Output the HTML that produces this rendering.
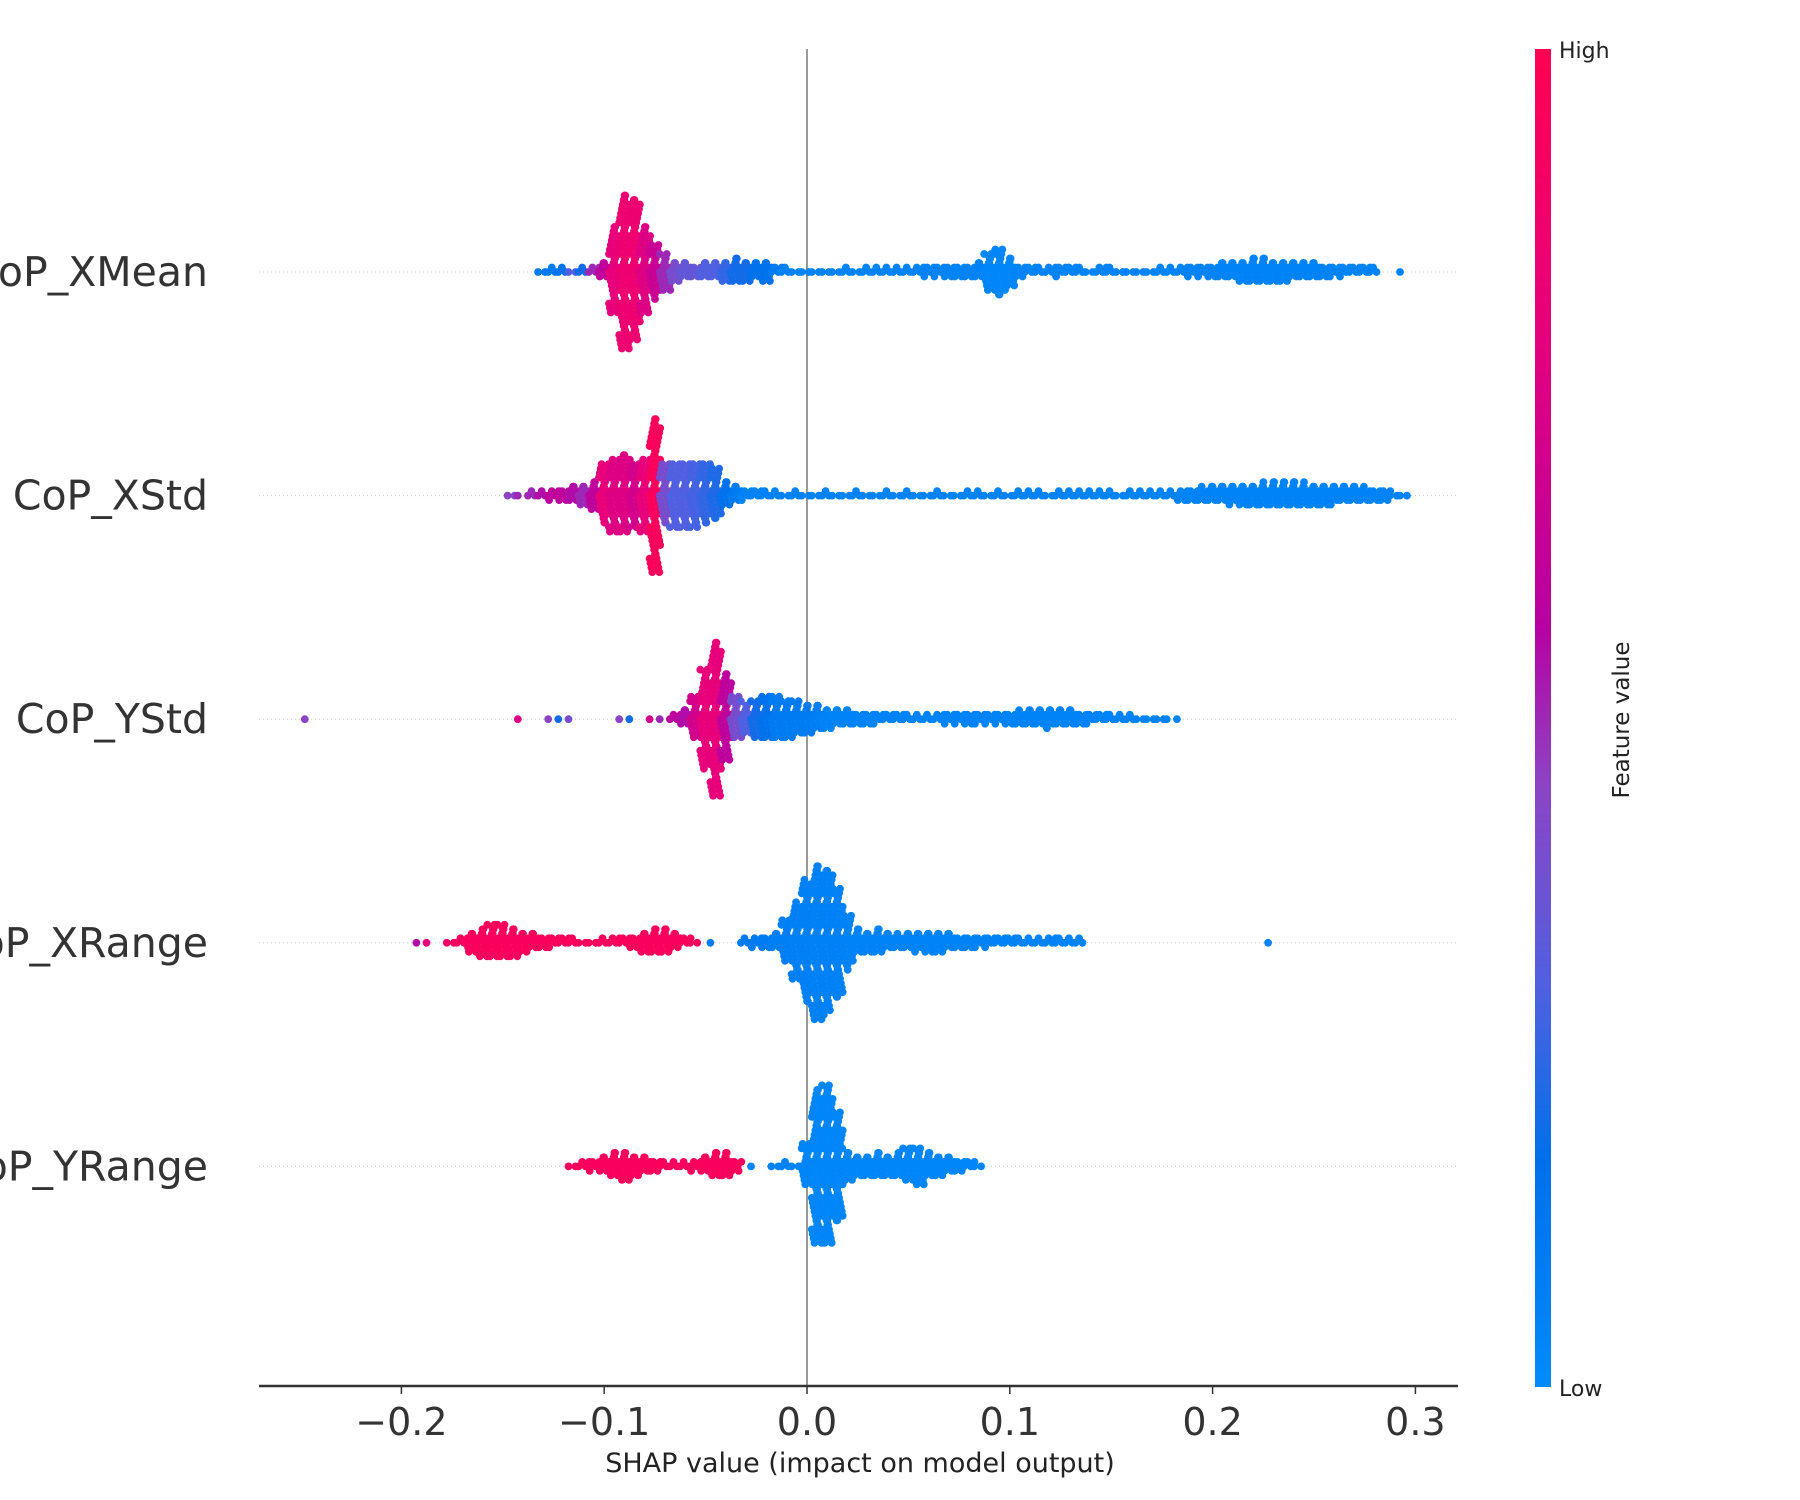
<!DOCTYPE html>
<html><head><meta charset="utf-8"><title>SHAP summary</title>
<style>html,body{margin:0;padding:0;background:#fff}svg{display:block}</style></head>
<body>
<svg id="chart" width="1800" height="1500" viewBox="0 0 1800 1500" xmlns="http://www.w3.org/2000/svg" font-family="DejaVu Sans, Liberation Sans, sans-serif">
<defs>
<linearGradient id="cbar" x1="0" y1="1" x2="0" y2="0">
<stop offset="0" stop-color="#008bfb"/><stop offset="0.17" stop-color="#0070ea"/><stop offset="0.3" stop-color="#5060e0"/><stop offset="0.45" stop-color="#8c44c4"/><stop offset="0.57" stop-color="#b800a2"/><stop offset="0.8" stop-color="#e8007a"/><stop offset="1" stop-color="#ff0052"/>
</linearGradient>
</defs>
<g id="grid"></g>
<line x1="807" y1="49" x2="807" y2="1386" stroke="#999" stroke-width="2"/>
<g id="dots"></g>
<g id="ylabels"></g>
<line x1="259" y1="1386" x2="1458" y2="1386" stroke="#333" stroke-width="2.5"/>
<g id="xticks"></g>
<text x="860" y="1472" font-size="27" fill="#222" text-anchor="middle">SHAP value (impact on model output)</text>
<rect x="1535" y="49" width="16" height="1338" fill="url(#cbar)"/>
<text x="1559" y="58" font-size="22" fill="#222">High</text>
<text x="1559" y="1396" font-size="22" fill="#222">Low</text>
<text x="0" y="0" font-size="23" fill="#222" text-anchor="middle" transform="translate(1629,720) rotate(-90)">Feature value</text>
</svg>
<script>
const features = ["CoP_XMean","CoP_XStd","CoP_YStd","CoP_XRange","CoP_YRange"];
const xTicks = [-0.2,-0.1,0.0,0.1,0.2,0.3];
const xTickLabels = ["\u22120.2","\u22120.1","0.0","0.1","0.2","0.3"];
const binStep = 0.005;
const xmeanStart = -0.130;
const xmeanCounts = [2,3,3,2,3,4,8,40,70,64,40,25,18,10,8,6,8,8,10,12,10,8,10,4,3,2,2,2,2,2,3,2,3,3,3,3,3,4,5,5,6,6,6,8,18,22,14,6,4,3,4,5,4,3,2,4,3,2,2,2,2,3,3,4,5,5,6,8,8,10,12,12,10,10,8,8,8,6,5,5,4,4,3,0,0,1];
const xmeanColors = [0.1,0.1,0.15,0.3,0.2,0.5,0.6,0.8,0.85,0.85,0.75,0.65,0.5,0.4,0.35,0.35,0.3,0.3,0.25,0.2,0.2,0.15,0.15,0.1,0.05,0.05,0.05,0.05,0.05,0.05,0.05,0.05,0.05,0.05,0.05,0.05,0.05,0.05,0.05,0.05,0.05,0.05,0.05,0.05,0.03,0.03,0.03,0.05,0.05,0.05,0.05,0.05,0.05,0.05,0.05,0.05,0.05,0.05,0.05,0.05,0.05,0.05,0.05,0.05,0.05,0.05,0.05,0.05,0.05,0.05,0.05,0.05,0.05,0.05,0.05,0.05,0.05,0.05,0.05,0.05,0.05,0.05,0.05,0.05,0.05,0.05];
const xstdStart = -0.145;
const xstdCounts = [2,1,3,3,5,6,8,10,14,28,34,36,30,34,70,28,30,30,30,28,24,12,8,5,4,3,3,2,3,2,2,3,2,2,3,2,2,3,2,3,2,2,3,2,2,3,3,2,3,2,3,3,3,2,3,3,3,3,3,3,2,3,3,3,3,3,6,6,7,8,8,9,10,10,11,12,12,12,11,10,10,9,8,8,7,6,6,2,2];
const xstdColors = [0.45,0.5,0.5,0.55,0.6,0.6,0.55,0.5,0.6,0.8,0.75,0.75,0.7,0.8,0.95,0.4,0.3,0.3,0.28,0.25,0.22,0.15,0.1,0.05,0.05,0.05,0.05,0.05,0.05,0.05,0.05,0.05,0.05,0.05,0.05,0.05,0.05,0.05,0.05,0.05,0.05,0.05,0.05,0.05,0.05,0.05,0.05,0.05,0.05,0.05,0.05,0.05,0.05,0.05,0.05,0.05,0.05,0.05,0.05,0.05,0.05,0.05,0.05,0.05,0.05,0.05,0.05,0.05,0.05,0.05,0.05,0.05,0.05,0.05,0.05,0.05,0.05,0.05,0.05,0.05,0.05,0.05,0.05,0.05,0.05,0.05,0.05,0.05,0.05];
const ystdStart = -0.245;
const ystdCounts = [1,0,0,0,0,0,0,0,0,0,0,0,0,0,0,0,0,0,0,0,0,1,0,0,1,1,1,0,0,0,0,1,1,0,1,1,4,8,20,45,70,40,20,15,18,20,20,18,16,14,12,10,8,8,6,6,5,4,4,3,3,3,4,5,5,6,5,5,5,6,7,8,8,9,8,8,6,5,4,3,3,3,2,2,2,1,1];
const ystdColors = [0.45,0.05,0.05,0.05,0.05,0.05,0.05,0.05,0.05,0.05,0.05,0.05,0.05,0.05,0.05,0.05,0.05,0.05,0.05,0.05,0.05,0.75,0.05,0.05,0.45,0.2,0.4,0.05,0.05,0.05,0.05,0.45,0.2,0.05,0.7,0.5,0.6,0.55,0.7,0.8,0.8,0.6,0.4,0.3,0.2,0.15,0.1,0.1,0.1,0.1,0.08,0.05,0.05,0.05,0.05,0.05,0.05,0.05,0.05,0.05,0.05,0.05,0.05,0.05,0.05,0.05,0.05,0.05,0.05,0.05,0.05,0.05,0.05,0.05,0.05,0.05,0.05,0.05,0.05,0.05,0.05,0.05,0.05,0.05,0.05,0.05,0.05];
const xrangeStart = -0.190;
const xrangeCounts = [1,1,0,2,4,10,14,16,16,14,10,8,6,5,4,3,2,2,3,4,4,6,10,12,12,8,4,2,0,1,0,0,3,5,6,8,20,35,55,70,65,50,25,12,10,12,8,7,8,9,10,10,8,6,6,5,5,4,4,3,3,3,4,3,3,3,0,0,0,0,0,0,0,0,0,0,0,0,0,0,0,0,0,0,1];
const xrangeColors = [0.55,0.8,0.9,0.9,0.95,0.95,0.95,0.95,0.95,0.95,0.95,0.95,0.95,0.95,0.95,0.95,0.95,0.95,0.95,0.95,0.95,0.95,0.95,0.95,0.95,0.95,0.95,0.95,0.5,0.1,0.1,0.1,0.1,0.1,0.1,0.08,0.08,0.07,0.07,0.06,0.06,0.06,0.05,0.05,0.05,0.05,0.05,0.05,0.05,0.05,0.05,0.05,0.05,0.05,0.05,0.05,0.05,0.05,0.05,0.05,0.05,0.05,0.05,0.05,0.05,0.05,0.05,0.05,0.05,0.05,0.05,0.05,0.05,0.05,0.05,0.05,0.05,0.05,0.05,0.05,0.05,0.05,0.05,0.05,0.05];
const yrangeStart = -0.115;
const yrangeCounts = [2,4,5,8,12,14,10,8,6,3,3,3,5,8,12,12,6,0,1,0,2,3,2,20,70,72,50,15,10,10,12,10,12,16,18,12,10,8,6,4,2];
const yrangeColors = [0.95,0.95,0.95,0.95,0.95,0.95,0.95,0.95,0.95,0.95,0.95,0.95,0.95,0.95,0.95,0.95,0.95,0.5,0.05,0.05,0.05,0.05,0.05,0.04,0.03,0.03,0.03,0.03,0.03,0.03,0.03,0.03,0.03,0.03,0.03,0.03,0.03,0.03,0.03,0.03,0.03];
const rowStarts = [xmeanStart,xstdStart,ystdStart,xrangeStart,yrangeStart];
const rowCounts = [xmeanCounts,xstdCounts,ystdCounts,xrangeCounts,yrangeCounts];
const rowColors = [xmeanColors,xstdColors,ystdColors,xrangeColors,yrangeColors];

const NS = "http://www.w3.org/2000/svg";
function xScale(v){ return 807 + v*2028; }
function yScale(i){ return 272 + i*223.6; }
const stops = [[0,[0,139,251]],[0.17,[0,112,234]],[0.3,[80,96,224]],[0.45,[140,68,196]],[0.57,[184,0,162]],[0.8,[232,0,122]],[1,[255,0,82]]];
function colorOf(c){
  for(let i=1;i<stops.length;i++){
    if(c<=stops[i][0]){
      const a=stops[i-1],b=stops[i],t=(c-a[0])/(b[0]-a[0]);
      const r=a[1].map((v,k)=>Math.round(v+(b[1][k]-v)*t));
      return "rgb("+r.join(",")+")";
    }
  }
  return "rgb(255,0,82)";
}
const grid=document.getElementById("grid"), dots=document.getElementById("dots"), yl=document.getElementById("ylabels"), xt=document.getElementById("xticks");
features.forEach((f,i)=>{
  const y=yScale(i);
  const gl=document.createElementNS(NS,"line");
  gl.setAttribute("x1",259);gl.setAttribute("x2",1458);gl.setAttribute("y1",y);gl.setAttribute("y2",y);
  gl.setAttribute("stroke","#ccc");gl.setAttribute("stroke-width","1");gl.setAttribute("stroke-dasharray","1,3");
  
  
  grid.appendChild(gl);
  const t=document.createElementNS(NS,"text");
  t.setAttribute("x",208);t.setAttribute("y",y+14);t.setAttribute("text-anchor","end");
  t.setAttribute("font-size","41");t.setAttribute("fill","#333");
  t.textContent=f;
  
  
  yl.appendChild(t);
  const g=document.createElementNS(NS,"g");
  
  
  dots.appendChild(g);
  const counts=rowCounts[i], cols=rowColors[i], start=rowStarts[i];
  counts.forEach((n,b)=>{
    const cx=xScale(start+b*binStep);
    const col=colorOf(cols[b]);
    for(let k=0;k<n;k++){
      const side=k%2, j=Math.floor(k/2);
      const dy=(j%2?-1:1)*Math.ceil(j/2)*4.5;
      const dx=(side?2.6:-2.6)+(((k*37)%7)-3)*0.9;
      const c=document.createElementNS(NS,"circle");
      c.setAttribute("cx",(cx+dx).toFixed(1));c.setAttribute("cy",(y+dy).toFixed(1));c.setAttribute("r","3.9");
      c.setAttribute("fill",col);
      
      
      g.appendChild(c);
    }
  });
});
xTicks.forEach((v,i)=>{
  const x=xScale(v);
  const tk=document.createElementNS(NS,"line");
  tk.setAttribute("x1",x);tk.setAttribute("x2",x);tk.setAttribute("y1",1386);tk.setAttribute("y2",1394);
  tk.setAttribute("stroke","#333");tk.setAttribute("stroke-width","1.5");
  
  
  xt.appendChild(tk);
  const t=document.createElementNS(NS,"text");
  t.setAttribute("x",x);t.setAttribute("y",1435);t.setAttribute("text-anchor","middle");
  t.setAttribute("font-size","38");t.setAttribute("fill","#333");
  t.textContent=xTickLabels[i];
  
  
  xt.appendChild(t);
});
</script>
</body></html>
